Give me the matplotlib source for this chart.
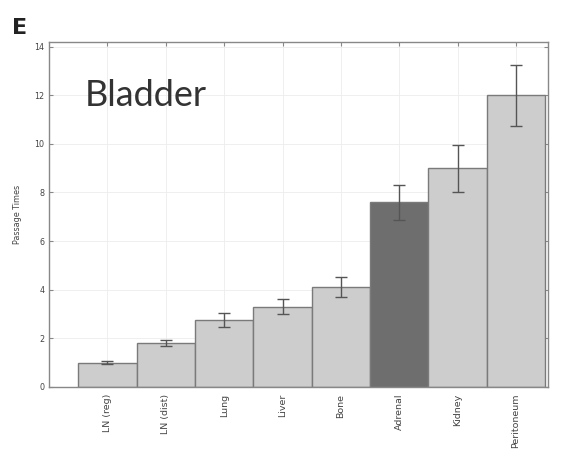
import matplotlib.pyplot as plt
import numpy as np

sites = ['LN (reg)', 'LN (dist)', 'Lung', 'Liver', 'Bone', 'Adrenal', 'Kidney', 'Peritoneum']
passage = [1.0, 1.8, 2.75, 3.3, 4.1, 7.6, 9.0, 12.0]
err = [0.06, 0.13, 0.28, 0.3, 0.4, 0.72, 0.97, 1.25]
highlight = 'Adrenal'

fig = plt.figure(figsize=(5.77, 4.53), dpi=100)
ax = fig.add_axes([0.085, 0.146, 0.865, 0.762])

x = np.arange(1, len(sites) + 1)
colors = ['#6e6e6e' if s == highlight else '#cdcdcd' for s in sites]
ax.bar(x, passage, width=1.0, color=colors, edgecolor='#7a7a7a', linewidth=1.0, zorder=2)
ax.errorbar(x, passage, yerr=err, fmt='none', ecolor='#555555', elinewidth=1.0,
            capsize=4, capthick=1.0, zorder=3)

ax.set_xlim(0, 8.55)
ax.set_ylim(0, 14.2)
ax.set_yticks(np.arange(0, 15, 2))
ax.set_xticks(x)
ax.set_xticklabels(sites, rotation=90, fontsize=6.8, color='#444444')
ax.tick_params(axis='y', labelsize=5.8, labelcolor='#444444')
ax.tick_params(direction='in', length=3, color='#888888', top=True, right=True)
ax.tick_params(axis='x', pad=5)
ax.grid(True, color='#ececec', linewidth=0.6, linestyle='-', zorder=0)
ax.set_axisbelow(True)
for sp in ax.spines.values():
    sp.set_color('#888888')
    sp.set_linewidth(1.0)

ax.set_ylabel('Passage Times', fontsize=5.8, color='#444444', labelpad=9)

ax.text(0.62, 12.0, 'Bladder', fontsize=26, family='Lato', color='#333333', va='center')
fig.text(0.02, 0.925, 'E', fontsize=16, fontweight='bold', color='#222222')

fig.savefig('out.png', dpi=100)
